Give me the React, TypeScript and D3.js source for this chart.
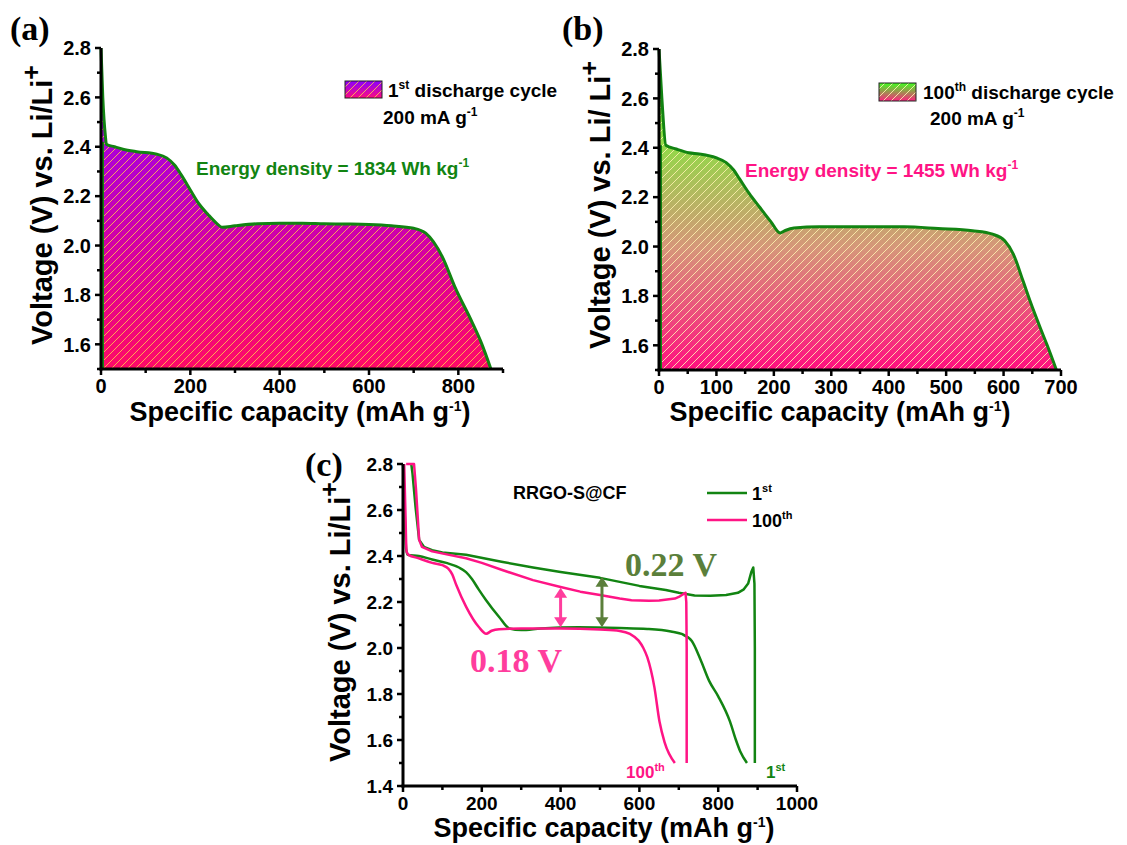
import React from 'react';
import * as d3 from 'd3';

const SANS = "'Liberation Sans', Arial, sans-serif";
const SERIF = "'Liberation Serif', 'Times New Roman', serif";

const GREEN = '#128412';
const PINK = '#ff1485';
const OLIVE = '#5b7f3b';
const PINK_LIGHT = '#ff3d9d';

// ---------- Panel (a): 1st discharge cycle ----------
const capA = [0, 4, 10, 12, 30, 49, 80, 125, 147, 165, 180, 200, 215, 240, 260, 271, 300, 350, 400, 450, 500, 550, 600, 650, 700, 727, 764, 792, 832, 852, 873];
const voltA = [2.8, 2.6, 2.44, 2.41, 2.4, 2.39, 2.38, 2.37, 2.355, 2.325, 2.285, 2.225, 2.18, 2.125, 2.088, 2.074, 2.08, 2.088, 2.09, 2.09, 2.088, 2.087, 2.085, 2.08, 2.07, 2.05, 1.955, 1.834, 1.685, 1.604, 1.5];

// ---------- Panel (b): 100th discharge cycle ----------
const capB = [0, 5, 12, 30, 52, 70, 99, 117, 130, 140, 157, 175, 195, 211, 220, 235, 279, 350, 427, 486, 546, 581, 602, 617, 634, 646, 664, 676, 692];
const voltB = [2.8, 2.6, 2.41, 2.395, 2.38, 2.375, 2.36, 2.34, 2.31, 2.275, 2.215, 2.16, 2.1, 2.055, 2.065, 2.075, 2.08, 2.08, 2.08, 2.073, 2.064, 2.05, 2.023, 1.969, 1.86, 1.78, 1.67, 1.6, 1.5];

// ---------- Panel (c): RRGO-S@CF ----------
const capC1Dis = [0, 4, 8, 12, 40, 74, 110, 142, 160, 175, 192, 210, 244, 270, 300, 350, 445, 550, 620, 680, 707, 733, 755, 777, 800, 830, 845, 856, 873];
const voltC1Dis = [2.8, 2.6, 2.43, 2.405, 2.4, 2.385, 2.37, 2.35, 2.33, 2.3, 2.255, 2.21, 2.135, 2.085, 2.078, 2.085, 2.09, 2.087, 2.083, 2.072, 2.061, 2.03, 1.95, 1.857, 1.79, 1.68, 1.6, 1.55, 1.5];
const capC1Chg = [893, 893, 892, 889, 884, 876, 865, 850, 820, 780, 740, 700, 667, 600, 500, 400, 330, 250, 160, 100, 74, 53, 41, 32, 24, 21];
const voltC1Chg = [1.5, 2.0, 2.28, 2.35, 2.33, 2.28, 2.255, 2.24, 2.23, 2.227, 2.228, 2.24, 2.252, 2.27, 2.305, 2.33, 2.35, 2.375, 2.405, 2.415, 2.425, 2.44, 2.47, 2.61, 2.76, 2.8];
const capC100Dis = [3, 6, 9, 14, 40, 74, 100, 115, 125, 135, 160, 193, 211, 225, 244, 300, 400, 500, 550, 576, 598, 610, 620, 638, 651, 664, 690];
const voltC100Dis = [2.8, 2.6, 2.42, 2.405, 2.39, 2.37, 2.36, 2.345, 2.32, 2.275, 2.18, 2.09, 2.062, 2.075, 2.082, 2.085, 2.085, 2.08, 2.074, 2.061, 2.032, 2.0, 1.96, 1.83, 1.68, 1.59, 1.5];
const capC100Chg = [720, 720, 719, 717, 712, 700, 690, 650, 624, 580, 550, 500, 450, 400, 330, 250, 200, 160, 117, 74, 48, 41, 33, 28, 8];
const voltC100Chg = [1.5, 2.0, 2.2, 2.24, 2.235, 2.222, 2.215, 2.207, 2.205, 2.208, 2.215, 2.23, 2.245, 2.265, 2.295, 2.34, 2.37, 2.39, 2.405, 2.42, 2.44, 2.47, 2.69, 2.8, 2.8];

// ticks
const yTicksAB = [1.6, 1.8, 2.0, 2.2, 2.4, 2.6, 2.8];
const yMinorAB = [1.5, 1.7, 1.9, 2.1, 2.3, 2.5, 2.7];
const xTicksA = [0, 200, 400, 600, 800];
const xMinorA = [100, 300, 500, 700, 900];
const xTicksB = [0, 100, 200, 300, 400, 500, 600, 700];
const xMinorB = [50, 150, 250, 350, 450, 550, 650];
const yTicksC = [1.4, 1.6, 1.8, 2.0, 2.2, 2.4, 2.6, 2.8];
const yMinorC = [1.5, 1.7, 1.9, 2.1, 2.3, 2.5, 2.7];
const xTicksC = [0, 200, 400, 600, 800, 1000];
const xMinorC = [100, 300, 500, 700, 900];

// annotation values
const arrowPink = { cap: 400, from: 2.262, to: 2.09 };
const arrowGreen = { cap: 505, from: 2.31, to: 2.09 };

const zip = (a: number[], b: number[]) => a.map((v, i) => [v, b[i]] as [number, number]);

type Sc = d3.ScaleLinear<number, number>;

function Axes({ x, y, xMajor, xMinor, yMajor, yMinor, fs }: { x: Sc; y: Sc; xMajor: number[]; xMinor: number[]; yMajor: number[]; yMinor: number[]; fs: number }) {
  const [x0, x1] = x.range();
  const [y0, y1] = y.range();
  return (
    <g>
      <line x1={x0} x2={x0} y1={y0 + 1.5} y2={y1} stroke="#000" strokeWidth={3} />
      <line x1={x0 - 1.5} x2={x1} y1={y0} y2={y0} stroke="#000" strokeWidth={3} />
      {yMajor.map((t) => (
        <g key={'ym' + t}>
          <line x1={x0 - 6} x2={x0} y1={y(t)} y2={y(t)} stroke="#000" strokeWidth={2.5} />
          <text x={x0 - 10} y={y(t)} dy="0.36em" textAnchor="end" fontSize={fs} fontWeight="bold" fontFamily={SANS}>{t.toFixed(1)}</text>
        </g>
      ))}
      {yMinor.map((t) => (
        <line key={'yn' + t} x1={x0 - 4} x2={x0} y1={y(t)} y2={y(t)} stroke="#000" strokeWidth={2.5} />
      ))}
      {xMajor.map((t) => (
        <g key={'xm' + t}>
          <line x1={x(t)} x2={x(t)} y1={y0} y2={y0 + 6} stroke="#000" strokeWidth={2.5} />
          <text x={x(t)} y={y0 + 24} textAnchor="middle" fontSize={fs} fontWeight="bold" fontFamily={SANS}>{t}</text>
        </g>
      ))}
      {xMinor.map((t) => (
        <line key={'xn' + t} x1={x(t)} x2={x(t)} y1={y0} y2={y0 + 4} stroke="#000" strokeWidth={2.5} />
      ))}
    </g>
  );
}

function XTitle({ cx, y }: { cx: number; y: number }) {
  return (
    <text x={cx} y={y} textAnchor="middle" fontSize={27} fontWeight="bold" fontFamily={SANS}>
      Specific capacity (mAh g<tspan dy={-10} fontSize={14}>-1</tspan><tspan dy={10}>)</tspan>
    </text>
  );
}

function YTitle({ x, cy, space }: { x: number; cy: number; space?: boolean }) {
  return (
    <text transform={`translate(${x},${cy}) rotate(-90)`} textAnchor="middle" fontSize={29} fontWeight="bold" fontFamily={SANS}>
      Voltage (V) vs. Li/{space ? ' ' : ''}Li<tspan dy={-12} fontSize={25}>+</tspan>
    </text>
  );
}

function Arrow({ x, y1, y2, color }: { x: number; y1: number; y2: number; color: string }) {
  const h = 9, w = 6.5;
  return (
    <g fill={color} stroke="none">
      <line x1={x} x2={x} y1={y1 + h} y2={y2 - h} stroke={color} strokeWidth={3} />
      <path d={`M${x},${y1} L${x - w},${y1 + h + 1} L${x + w},${y1 + h + 1} Z`} />
      <path d={`M${x},${y2} L${x - w},${y2 - h - 1} L${x + w},${y2 - h - 1} Z`} />
    </g>
  );
}

export default function App() {
  // scales
  const xA = d3.scaleLinear().domain([0, 900]).range([101, 503]);
  const yA = d3.scaleLinear().domain([1.5, 2.8]).range([369, 48]);
  const xB = d3.scaleLinear().domain([0, 700]).range([659, 1061]);
  const yB = d3.scaleLinear().domain([1.5, 2.8]).range([370, 49]);
  const xC = d3.scaleLinear().domain([0, 1000]).range([403, 797]);
  const yC = d3.scaleLinear().domain([1.4, 2.8]).range([786, 464]);

  const dataA = zip(capA, voltA);
  const dataB = zip(capB, voltB);

  const areaA = d3.area<[number, number]>().x((d) => xA(d[0])).y0(yA(1.5)).y1((d) => yA(d[1])).curve(d3.curveMonotoneX);
  const lineA = d3.line<[number, number]>().x((d) => xA(d[0])).y((d) => yA(d[1])).curve(d3.curveMonotoneX);
  const areaB = d3.area<[number, number]>().x((d) => xB(d[0])).y0(yB(1.5)).y1((d) => yB(d[1])).curve(d3.curveMonotoneX);
  const lineB = d3.line<[number, number]>().x((d) => xB(d[0])).y((d) => yB(d[1])).curve(d3.curveMonotoneX);

  const lineCdis = d3.line<[number, number]>().x((d) => xC(d[0])).y((d) => yC(d[1])).curve(d3.curveMonotoneX);
  const lineCchg = d3.line<[number, number]>().x((d) => xC(d[0])).y((d) => yC(d[1])).curve(d3.curveLinear);

  return (
    <svg width={1127} height={845} style={{ position: 'absolute', left: 0, top: 0, background: '#fff' }}>
      <defs>
        <linearGradient id="gradA" gradientUnits="userSpaceOnUse" x1={0} x2={0} y1={yA(2.8)} y2={yA(1.5)}>
          <stop offset="0" stopColor="#8a00ff" />
          <stop offset="0.33" stopColor="#b000d4" />
          <stop offset="0.65" stopColor="#d8009f" />
          <stop offset="1" stopColor="#ff0a66" />
        </linearGradient>
        <linearGradient id="gradB" gradientUnits="userSpaceOnUse" x1={0} x2={0} y1={yB(2.8)} y2={yB(1.5)}>
          <stop offset="0" stopColor="#55ff22" />
          <stop offset="0.3" stopColor="#92d948" />
          <stop offset="0.62" stopColor="#d6967a" />
          <stop offset="1" stopColor="#ff0f80" />
        </linearGradient>
        <linearGradient id="gradAL" x1={0} x2={0} y1={0} y2={1}>
          <stop offset="0" stopColor="#8a00ff" />
          <stop offset="1" stopColor="#ff0a80" />
        </linearGradient>
        <linearGradient id="gradBL" x1={0} x2={0} y1={0} y2={1}>
          <stop offset="0" stopColor="#40ff20" />
          <stop offset="1" stopColor="#ff2080" />
        </linearGradient>
        <pattern id="hatchA" patternUnits="userSpaceOnUse" width={8} height={8}>
          <path d="M-2,2 L2,-2 M0,8 L8,0 M6,10 L10,6" stroke="#ffd04a" strokeWidth={1} strokeOpacity={0.8} />
        </pattern>
        <pattern id="hatchB" patternUnits="userSpaceOnUse" width={8} height={8}>
          <path d="M-2,2 L2,-2 M0,8 L8,0 M6,10 L10,6" stroke="#fff3b0" strokeWidth={1} strokeOpacity={0.85} />
        </pattern>
      </defs>

      {/* ---------- Panel (a) ---------- */}
      <text x={10} y={40} fontFamily={SERIF} fontWeight="bold" fontSize={34}>(a)</text>
      <path d={areaA(dataA) || ''} fill="url(#gradA)" />
      <path d={areaA(dataA) || ''} fill="url(#hatchA)" />
      <line x1={xA(0) + 2} x2={xA(0) + 2} y1={yA(2.42)} y2={yA(1.5)} stroke={GREEN} strokeWidth={2} />
      <path d={lineA(dataA) || ''} fill="none" stroke={GREEN} strokeWidth={3} />
      <Axes x={xA} y={yA} xMajor={xTicksA} xMinor={xMinorA} yMajor={yTicksAB} yMinor={yMinorAB} fs={20} />
      <XTitle cx={300} y={421} />
      <YTitle x={52} cy={205} />
      <rect x={345} y={81} width={37} height={17} fill="url(#gradAL)" />
      <rect x={345} y={81} width={37} height={17} fill="url(#hatchA)" stroke="#222" strokeWidth={1} />
      <text x={388} y={97} fontSize={19} fontWeight="bold" fontFamily={SANS}>
        1<tspan dy={-8} fontSize={12}>st</tspan><tspan dy={8}> discharge cycle</tspan>
      </text>
      <text x={383} y={124} fontSize={19} fontWeight="bold" fontFamily={SANS}>
        200 mA g<tspan dy={-8} fontSize={12}>-1</tspan>
      </text>
      <text x={196} y={175} fontSize={19} fontWeight="bold" fontFamily={SANS} fill={GREEN}>
        Energy density = 1834 Wh kg<tspan dy={-8} fontSize={12}>-1</tspan>
      </text>

      {/* ---------- Panel (b) ---------- */}
      <text x={562} y={40} fontFamily={SERIF} fontWeight="bold" fontSize={34}>(b)</text>
      <path d={areaB(dataB) || ''} fill="url(#gradB)" />
      <path d={areaB(dataB) || ''} fill="url(#hatchB)" />
      <line x1={xB(0) + 2} x2={xB(0) + 2} y1={yB(2.41)} y2={yB(1.5)} stroke={GREEN} strokeWidth={2} />
      <path d={lineB(dataB) || ''} fill="none" stroke={GREEN} strokeWidth={3} />
      <Axes x={xB} y={yB} xMajor={xTicksB} xMinor={xMinorB} yMajor={yTicksAB} yMinor={yMinorAB} fs={20} />
      <XTitle cx={840} y={421} />
      <YTitle x={610} cy={205} space />
      <rect x={879} y={83} width={37} height={18} fill="url(#gradBL)" />
      <rect x={879} y={83} width={37} height={18} fill="url(#hatchB)" stroke="#222" strokeWidth={1} />
      <text x={923} y={99} fontSize={19} fontWeight="bold" fontFamily={SANS}>
        100<tspan dy={-8} fontSize={12}>th</tspan><tspan dy={8}> discharge cycle</tspan>
      </text>
      <text x={930} y={125} fontSize={19} fontWeight="bold" fontFamily={SANS}>
        200 mA g<tspan dy={-8} fontSize={12}>-1</tspan>
      </text>
      <text x={745} y={177} fontSize={19} fontWeight="bold" fontFamily={SANS} fill={PINK}>
        Energy density = 1455 Wh kg<tspan dy={-8} fontSize={12}>-1</tspan>
      </text>

      {/* ---------- Panel (c) ---------- */}
      <text x={305} y={476} fontFamily={SERIF} fontWeight="bold" fontSize={34}>(c)</text>
      <path d={lineCdis(zip(capC1Dis, voltC1Dis)) || ''} fill="none" stroke={GREEN} strokeWidth={2.5} />
      <path d={lineCchg(zip(capC1Chg, voltC1Chg)) || ''} fill="none" stroke={GREEN} strokeWidth={2.5} strokeLinejoin="round" />
      <path d={lineCdis(zip(capC100Dis, voltC100Dis)) || ''} fill="none" stroke={PINK} strokeWidth={2.5} />
      <path d={lineCchg(zip(capC100Chg, voltC100Chg)) || ''} fill="none" stroke={PINK} strokeWidth={2.5} strokeLinejoin="round" />
      <Axes x={xC} y={yC} xMajor={xTicksC} xMinor={xMinorC} yMajor={yTicksC} yMinor={yMinorC} fs={19} />
      <XTitle cx={604} y={837} />
      <YTitle x={350} cy={622} />
      <text x={513} y={499} fontSize={18} fontWeight="bold" fontFamily={SANS}>RRGO-S@CF</text>
      <line x1={707} x2={747} y1={493} y2={493} stroke={GREEN} strokeWidth={2.5} />
      <text x={752} y={500} fontSize={18} fontWeight="bold" fontFamily={SANS}>
        1<tspan dy={-8} fontSize={11}>st</tspan>
      </text>
      <line x1={707} x2={747} y1={520} y2={520} stroke={PINK} strokeWidth={2.5} />
      <text x={752} y={527} fontSize={18} fontWeight="bold" fontFamily={SANS}>
        100<tspan dy={-8} fontSize={11}>th</tspan>
      </text>
      <Arrow x={xC(arrowPink.cap)} y1={yC(arrowPink.from)} y2={yC(arrowPink.to)} color={PINK_LIGHT} />
      <Arrow x={xC(arrowGreen.cap)} y1={yC(arrowGreen.from)} y2={yC(arrowGreen.to)} color={OLIVE} />
      <text x={625} y={576} fontSize={34} fontWeight="bold" fontFamily={SERIF} fill={OLIVE}>0.22 V</text>
      <text x={470} y={672} fontSize={34} fontWeight="bold" fontFamily={SERIF} fill={PINK_LIGHT}>0.18 V</text>
      <text x={626} y={778} fontSize={17} fontWeight="bold" fontFamily={SANS} fill={PINK}>
        100<tspan dy={-7} fontSize={11}>th</tspan>
      </text>
      <text x={766} y={778} fontSize={17} fontWeight="bold" fontFamily={SANS} fill={GREEN}>
        1<tspan dy={-7} fontSize={11}>st</tspan>
      </text>
    </svg>
  );
}
